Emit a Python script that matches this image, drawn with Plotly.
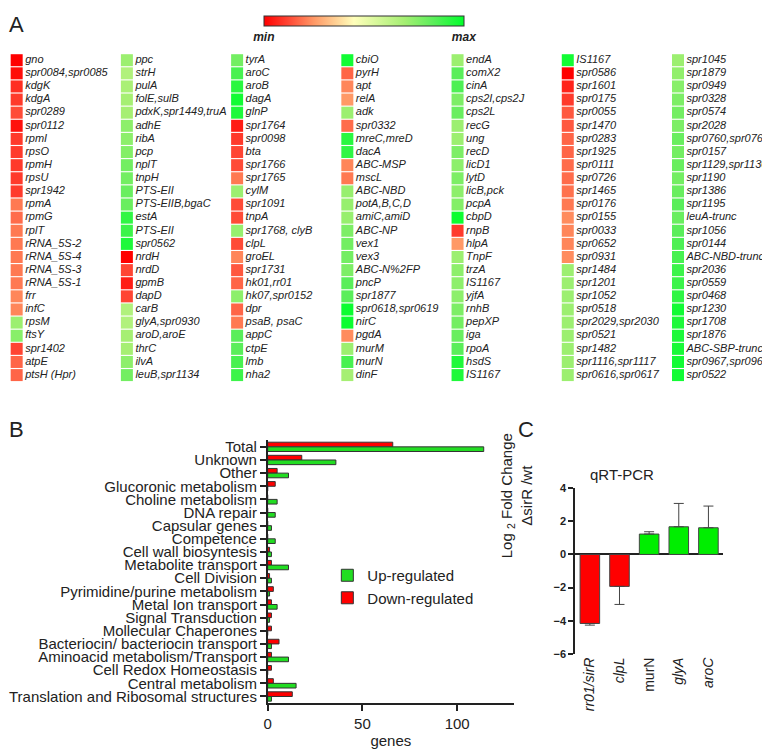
import plotly.graph_objects as go

FONT = "Liberation Sans, Arial, sans-serif"
OFF = 8  # page body margin around the plot div
W, H = 770 - OFF, 749 - OFF


def px(x):
    return (x - OFF) / W


def py(y):
    return 1 - (y - OFF) / H


# ---------------- Panel A: genes (top to bottom) and relative level (0 = min, 1 = max)
col1_genes = ["gno", "spr0084,spr0085", "kdgK", "kdgA", "spr0289", "spr0112", "rpmI", "rpsO",
              "rpmH", "rpsU", "spr1942", "rpmA", "rpmG", "rplT", "rRNA_5S-2", "rRNA_5S-4",
              "rRNA_5S-3", "rRNA_5S-1", "frr", "infC", "rpsM", "ftsY", "spr1402", "atpE", "ptsH (Hpr)"]
col1_vals = [0.0, 0.02, 0.08, 0.1, 0.13, 0.03, 0.1, 0.1, 0.1, 0.1, 0.1, 0.2, 0.18, 0.2, 0.2, 0.2,
             0.2, 0.2, 0.22, 0.22, 0.72, 0.76, 0.12, 0.17, 0.17]

col2_genes = ["ppc", "strH", "pulA", "folE,sulB", "pdxK,spr1449,truA", "adhE", "ribA", "pcp",
              "nplT", "tnpH", "PTS-EII", "PTS-EIIB,bgaC", "estA", "PTS-EII", "spr0562", "nrdH",
              "nrdD", "gpmB", "dapD", "carB", "glyA,spr0930", "aroD,aroE", "thrC", "ilvA", "leuB,spr1134"]
col2_vals = [0.72, 0.67, 0.69, 0.7, 0.7, 0.75, 0.75, 0.77, 0.8, 0.8, 0.82, 0.82, 0.92, 0.9, 0.95,
             0.0, 0.12, 0.05, 0.12, 0.67, 0.67, 0.7, 0.7, 0.75, 0.8]

col3_genes = ["tyrA", "aroC", "aroB", "dagA", "glnP", "spr1764", "spr0098", "bta", "spr1766",
              "spr1765", "cylM", "spr1091", "tnpA", "spr1768, clyB", "clpL", "groEL", "spr1731",
              "hk01,rr01", "hk07,spr0152", "dpr", "psaB, psaC", "appC", "ctpE", "lmb", "nha2"]
col3_vals = [0.8, 0.88, 0.93, 0.97, 0.95, 0.05, 0.1, 0.12, 0.13, 0.2, 0.72, 0.13, 0.13, 0.73,
             0.13, 0.22, 0.15, 0.17, 0.75, 0.17, 0.2, 0.85, 0.85, 0.88, 0.9]

col4_genes = ["cbiO", "pyrH", "apt", "relA", "adk", "spr0332", "mreC,mreD", "dacA", "ABC-MSP",
              "mscL", "ABC-NBD", "potA,B,C,D", "amiC,amiD", "ABC-NP", "vex1", "vex3", "ABC-N%2FP",
              "pncP", "spr1877", "spr0618,spr0619", "nirC", "pgdA", "murM", "murN", "dinF"]
col4_vals = [0.97, 0.17, 0.22, 0.25, 0.72, 0.18, 0.93, 0.92, 0.22, 0.2, 0.73, 0.73, 0.73, 0.78,
             0.8, 0.8, 0.78, 0.85, 0.85, 0.98, 0.98, 0.23, 0.72, 0.88, 0.7]

col5_genes = ["endA", "comX2", "cinA", "cps2I,cps2J", "cps2L", "recG", "ung", "recD", "licD1",
              "lytD", "licB,pck", "pcpA", "cbpD", "rnpB", "hlpA", "TnpF", "trzA", "IS1167", "yjfA",
              "rnhB", "pepXP", "iga", "rpoA", "hsdS", "IS1167"]
col5_vals = [0.72, 0.85, 0.87, 0.78, 0.82, 0.72, 0.72, 0.78, 0.75, 0.78, 0.75, 0.77, 0.98, 0.1,
             0.25, 0.72, 0.75, 0.75, 0.75, 0.78, 0.8, 0.82, 0.85, 0.95, 0.95]

col6_genes = ["IS1167", "spr0586", "spr1601", "spr0175", "spr0055", "spr1470", "spr0283",
              "spr1925", "spr0111", "spr0726", "spr1465", "spr0176", "spr0155", "spr0033",
              "spr0652", "spr0931", "spr1484", "spr1201", "spr1052", "spr0518", "spr2029,spr2030",
              "spr0521", "spr1482", "spr1116,spr1117", "spr0616,spr0617"]
col6_vals = [0.97, 0.0, 0.06, 0.1, 0.15, 0.15, 0.17, 0.17, 0.18, 0.18, 0.19, 0.2, 0.23, 0.22,
             0.22, 0.23, 0.72, 0.72, 0.72, 0.72, 0.72, 0.72, 0.72, 0.72, 0.72]

col7_genes = ["spr1045", "spr1879", "spr0949", "spr0328", "spr0574", "spr2028", "spr0760,spr0761",
              "spr0157", "spr1129,spr1130", "spr1190", "spr1386", "spr1195", "leuA-trunc",
              "spr1056", "spr0144", "ABC-NBD-trunc", "spr2036", "spr0559", "spr0468", "spr1230",
              "spr1708", "spr1876", "ABC-SBP-trunc", "spr0967,spr0968", "spr0522"]
col7_vals = [0.72, 0.74, 0.76, 0.78, 0.8, 0.78, 0.82, 0.8, 0.82, 0.8, 0.82, 0.85, 0.82, 0.85,
             0.87, 0.88, 0.9, 0.9, 0.92, 0.97, 0.95, 0.95, 0.96, 0.97, 0.97]

# ---------------- Panel B: gene categories (top to bottom)
categories = ["Total", "Unknown", "Other", "Glucoronic metabolism", "Choline metabolism",
              "DNA repair", "Capsular genes", "Competence", "Cell wall biosyntesis",
              "Metabolite transport", "Cell Division", "Pyrimidine/purine metabolism",
              "Metal Ion transport", "Signal Transduction", "Mollecular Chaperones",
              "Bacteriocin/ bacteriocin transport", "Aminoacid metabolism/Transport",
              "Cell Redox Homeostasis", "Central metabolism", "Translation and Ribosomal structures"]
up_counts = [114, 36, 11, 0, 5, 4, 2, 4, 2, 11, 2, 1, 5, 1, 0, 2, 11, 0, 15, 2]
down_counts = [66, 18, 5, 4, 0, 0, 0, 0, 1, 2, 1, 3, 2, 2, 2, 6, 2, 2, 3, 13]

# ---------------- Panel C: qRT-PCR
qpcr_genes = ["rr01/sirR", "clpL", "murN", "glyA", "aroC"]
qpcr_labels = ["<i>rr01/sirR</i>", "<i>clpL</i>", "murN", "<i>glyA</i>", "<i>aroC</i>"]
qpcr_fold = [-4.17, -1.93, 1.23, 1.67, 1.61]
qpcr_err = [0.1, 1.09, 0.14, 1.41, 1.31]

heat_scale = [[0.0, "#ff0000"], [0.12, "#ff4533"], [0.25, "#ff9966"], [0.45, "#ffffbb"],
              [0.7, "#a6ef73"], [0.85, "#5aee5a"], [1.0, "#00ff2a"]]

fig = go.Figure()

columns = [(col1_genes, col1_vals), (col2_genes, col2_vals), (col3_genes, col3_vals),
           (col4_genes, col4_vals), (col5_genes, col5_vals), (col6_genes, col6_vals),
           (col7_genes, col7_vals)]
xs, ys, names, vals = [], [], [], []
for c, (genes, levels) in enumerate(columns):
    for r, (g, v) in enumerate(zip(genes, levels)):
        xs.append(c)
        ys.append(r)
        names.append(g)
        vals.append(v)

fig.add_trace(go.Scatter(
    x=xs, y=ys, text=names, mode="markers+text", textposition="middle right",
    cliponaxis=False,
    textfont=dict(family=FONT, size=11, color="#222", style="italic"),
    marker=dict(symbol="square", size=12, color=vals, colorscale=heat_scale, cmin=0, cmax=1,
                line_width=0,
                colorbar=dict(orientation="h", x=px(361.7), xanchor="center", y=py(10),
                              yanchor="top", len=200, lenmode="pixels", thickness=10,
                              thicknessmode="pixels", xpad=0, ypad=0, outlinewidth=1,
                              outlinecolor="#333", tickvals=[0, 1],
                              ticktext=["<b><i>min</i></b>", "<b><i>max</i></b>"], ticks="",
                              tickfont=dict(family=FONT, size=12, color="#222"))),
    xaxis="x", yaxis="y", showlegend=False, hoverinfo="skip"))

# Panel B bars (red drawn on top of each pair)
fig.add_trace(go.Bar(
    y=categories, x=down_counts, orientation="h", name="Down-regulated", legendrank=2,
    marker=dict(color="#ff0000", line=dict(color="#333", width=1)),
    xaxis="x2", yaxis="y2"))
fig.add_trace(go.Bar(
    y=categories, x=up_counts, orientation="h", name="Up-regulated", legendrank=1,
    marker=dict(color="#22dd22", line=dict(color="#333", width=1)),
    xaxis="x2", yaxis="y2"))

# Panel C bars
fig.add_trace(go.Bar(
    x=qpcr_genes, y=qpcr_fold, width=0.66, showlegend=False,
    marker=dict(color=["#ff0000" if v < 0 else "#00ee00" for v in qpcr_fold],
                line=dict(color="#444", width=1)),
    error_y=dict(type="data", symmetric=False,
                 array=[e if v > 0 else 0 for v, e in zip(qpcr_fold, qpcr_err)],
                 arrayminus=[e if v < 0 else 0 for v, e in zip(qpcr_fold, qpcr_err)],
                 color="#444", thickness=1, width=5),
    xaxis="x3", yaxis="y3"))

cell0 = 12.7 - OFF  # centre of first cell column in figure pixels
fig.update_layout(
    width=W, height=H, margin=dict(l=0, r=0, t=0, b=0),
    paper_bgcolor="white", plot_bgcolor="white",
    font=dict(family=FONT, color="#222"),
    barmode="group", bargap=0.29, bargroupgap=0,
    xaxis=dict(domain=[0, 1], range=[-cell0 / 110.8, (W - cell0) / 110.8], visible=False),
    yaxis=dict(domain=[py(381.7), py(48.3)], range=[24.5, -0.5], visible=False),
    xaxis2=dict(domain=[px(265), px(512.7)], range=[0, 130], anchor="y2",
                showline=True, linecolor="#222", linewidth=1.5, ticks="outside", ticklen=6,
                tickcolor="#222", tickwidth=1.5, tickvals=[0, 50, 100],
                tickfont=dict(size=15), showgrid=False, zeroline=False,
                title=dict(text="genes", font=dict(size=15), standoff=4)),
    yaxis2=dict(domain=[py(708.4), py(441.3)], range=[19.5, -0.5], anchor="x2",
                type="category", tickmode="array", tickvals=categories,
                showline=True, linecolor="#222", linewidth=1.5,
                ticks="outside", ticklen=6, tickcolor="#222", tickwidth=1.5,
                tickfont=dict(size=15), showgrid=False, zeroline=False),
    xaxis3=dict(domain=[px(574), px(723)], range=[-0.5, 4.5], anchor="y3",
                showline=False, ticks="", tickangle=-90, tickvals=qpcr_genes,
                ticktext=qpcr_labels, tickfont=dict(size=14), showgrid=False, zeroline=False),
    yaxis3=dict(domain=[py(658.3), py(490)], range=[-6, 4], anchor="x3",
                tickvals=[-6, -4, -2, 0, 2, 4], showline=True, linecolor="#222", linewidth=1.5,
                ticks="outside", ticklen=5, tickcolor="#222", tickwidth=1.5,
                tickfont=dict(size=11, weight="bold"), showgrid=False,
                zeroline=True, zerolinecolor="#222", zerolinewidth=1.5),
    legend=dict(x=px(325), y=py(562), xanchor="left", yanchor="top",
                font=dict(size=15), bgcolor="rgba(0,0,0,0)", tracegroupgap=0),
    annotations=[
        dict(text="A", x=px(3), y=py(4), xref="paper", yref="paper", xanchor="left",
             yanchor="top", showarrow=False, font=dict(size=22)),
        dict(text="B", x=px(3), y=py(416), xref="paper", yref="paper", xanchor="left",
             yanchor="top", showarrow=False, font=dict(size=22)),
        dict(text="C", x=px(515), y=py(416), xref="paper", yref="paper", xanchor="left",
             yanchor="top", showarrow=False, font=dict(size=22)),
        dict(text="qRT-PCR", x=px(655), y=py(476), xref="paper", yref="paper",
             showarrow=False, font=dict(size=15)),
        dict(text="Log <sub>2</sub> Fold Change<br>\u0394sirR /wt", x=px(536), y=py(563),
             xref="paper", yref="paper", textangle=-90, showarrow=False,
             font=dict(size=15)),
    ],
)

fig.write_html("out.html", config={"displayModeBar": False})
